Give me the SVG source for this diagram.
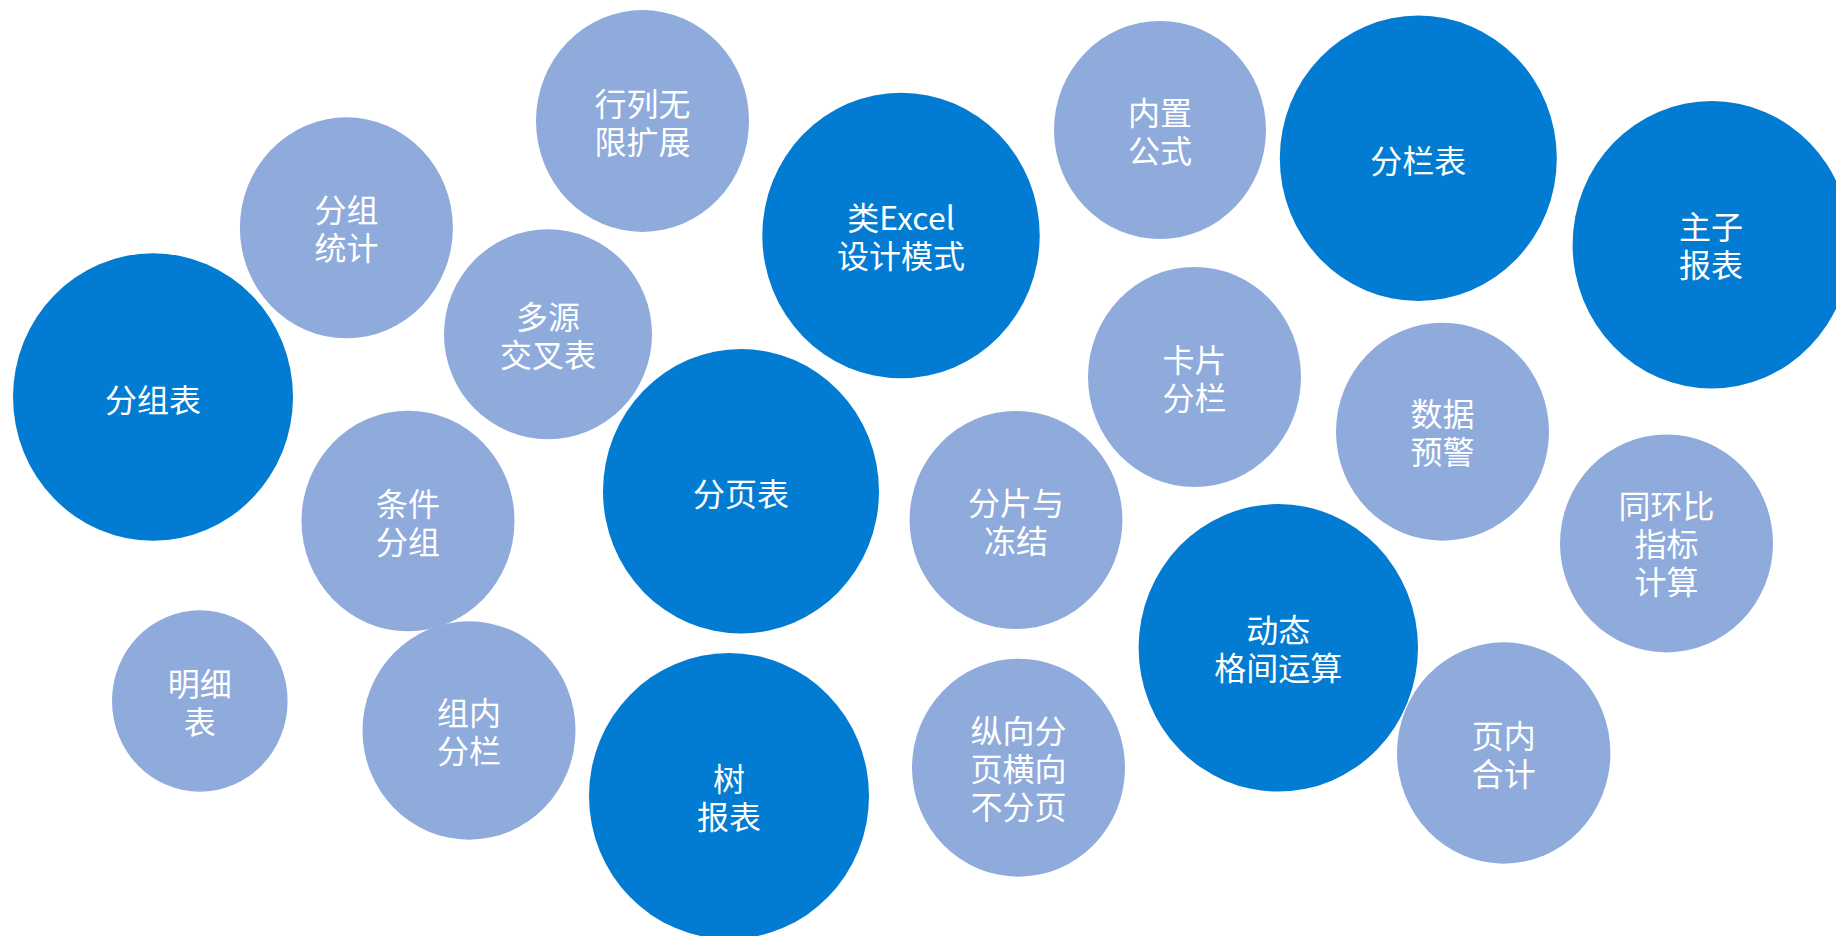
<svg xmlns="http://www.w3.org/2000/svg" width="1836" height="936" viewBox="0 0 1836 936">
<style>
.dark{fill:#027BD2}
.light{fill:#8FABDC}
.lbl{fill:#FFFFFF;font-family:"Noto Sans CJK SC","Microsoft YaHei",sans-serif;font-size:32px;text-anchor:middle}
</style>
<rect width="1836" height="936" fill="#FFFFFF"/>
<g id="connectors"></g>
<g id="n-hanglie"><ellipse class="light" cx="642.5" cy="121" rx="106.5" ry="111"/><text class="lbl" x="642.5" y="115.5"><tspan x="642.5">行列无</tspan><tspan x="642.5" dy="38">限扩展</tspan></text></g>
<g id="n-fenzutongji"><ellipse class="light" cx="346.4" cy="227.8" rx="106.5" ry="110.5"/><text class="lbl" x="346.4" y="222.3"><tspan x="346.4">分组</tspan><tspan x="346.4" dy="38">统计</tspan></text></g>
<g id="n-duoyuan"><ellipse class="light" cx="548" cy="334.3" rx="104" ry="105"/><text class="lbl" x="548" y="328.8"><tspan x="548">多源</tspan><tspan x="548" dy="38">交叉表</tspan></text></g>
<g id="n-fenzubiao"><ellipse class="dark" cx="153" cy="397" rx="140" ry="143.7"/><text class="lbl" x="153" y="411.5">分组表</text></g>
<g id="n-excel"><ellipse class="dark" cx="901" cy="235.5" rx="138.7" ry="142.8"/><text class="lbl" x="901" y="230"><tspan x="901">类Excel</tspan><tspan x="901" dy="38">设计模式</tspan></text></g>
<g id="n-neizhi"><ellipse class="light" cx="1160" cy="130" rx="106" ry="109"/><text class="lbl" x="1160" y="124.5"><tspan x="1160">内置</tspan><tspan x="1160" dy="38">公式</tspan></text></g>
<g id="n-fenlan"><ellipse class="dark" cx="1418.3" cy="158.3" rx="138.5" ry="142.7"/><text class="lbl" x="1418.3" y="172.8">分栏表</text></g>
<g id="n-zhuzi"><ellipse class="dark" cx="1711.6" cy="244.7" rx="139" ry="143.7"/><text class="lbl" x="1711" y="239.2"><tspan x="1711">主子</tspan><tspan x="1711" dy="38">报表</tspan></text></g>
<g id="n-kapian"><ellipse class="light" cx="1194.5" cy="377" rx="106.5" ry="110"/><text class="lbl" x="1194.5" y="371.5"><tspan x="1194.5">卡片</tspan><tspan x="1194.5" dy="38">分栏</tspan></text></g>
<g id="n-shuju"><ellipse class="light" cx="1442.5" cy="431.7" rx="106.5" ry="109"/><text class="lbl" x="1442.5" y="426.2"><tspan x="1442.5">数据</tspan><tspan x="1442.5" dy="38">预警</tspan></text></g>
<g id="n-fenye"><ellipse class="dark" cx="741" cy="491.3" rx="138" ry="142.3"/><text class="lbl" x="741" y="505.8">分页表</text></g>
<g id="n-tiaojian"><ellipse class="light" cx="408" cy="521" rx="106.5" ry="110.3"/><text class="lbl" x="408" y="515.5"><tspan x="408">条件</tspan><tspan x="408" dy="38">分组</tspan></text></g>
<g id="n-fenpian"><ellipse class="light" cx="1016" cy="520" rx="106.4" ry="109"/><text class="lbl" x="1016" y="514.5"><tspan x="1016">分片与</tspan><tspan x="1016" dy="38">冻结</tspan></text></g>
<g id="n-tonghuan"><ellipse class="light" cx="1666.5" cy="543.4" rx="106.5" ry="109"/><text class="lbl" x="1666.5" y="518.4"><tspan x="1666.5">同环比</tspan><tspan x="1666.5" dy="38">指标</tspan><tspan x="1666.5" dy="38">计算</tspan></text></g>
<g id="n-dongtai"><ellipse class="dark" cx="1278.3" cy="647.8" rx="139.7" ry="143.8"/><text class="lbl" x="1278.3" y="642.3"><tspan x="1278.3">动态</tspan><tspan x="1278.3" dy="38">格间运算</tspan></text></g>
<g id="n-mingxi"><ellipse class="light" cx="199.8" cy="701" rx="87.8" ry="90.7"/><text class="lbl" x="199.8" y="695.5"><tspan x="199.8">明细</tspan><tspan x="199.8" dy="38">表</tspan></text></g>
<g id="n-zunei"><ellipse class="light" cx="469" cy="730.5" rx="106.5" ry="109.2"/><text class="lbl" x="469" y="725"><tspan x="469">组内</tspan><tspan x="469" dy="38">分栏</tspan></text></g>
<g id="n-shu"><ellipse class="dark" cx="729" cy="796" rx="140" ry="143"/><text class="lbl" x="729" y="790.5"><tspan x="729">树</tspan><tspan x="729" dy="38">报表</tspan></text></g>
<g id="n-zongxiang"><ellipse class="light" cx="1018.5" cy="767.7" rx="106.5" ry="109"/><text class="lbl" x="1018.5" y="742.7"><tspan x="1018.5">纵向分</tspan><tspan x="1018.5" dy="38">页横向</tspan><tspan x="1018.5" dy="38">不分页</tspan></text></g>
<g id="n-yenei"><ellipse class="light" cx="1503.7" cy="753" rx="106.7" ry="110.7"/><text class="lbl" x="1503.7" y="747.5"><tspan x="1503.7">页内</tspan><tspan x="1503.7" dy="38">合计</tspan></text></g>
</svg>
